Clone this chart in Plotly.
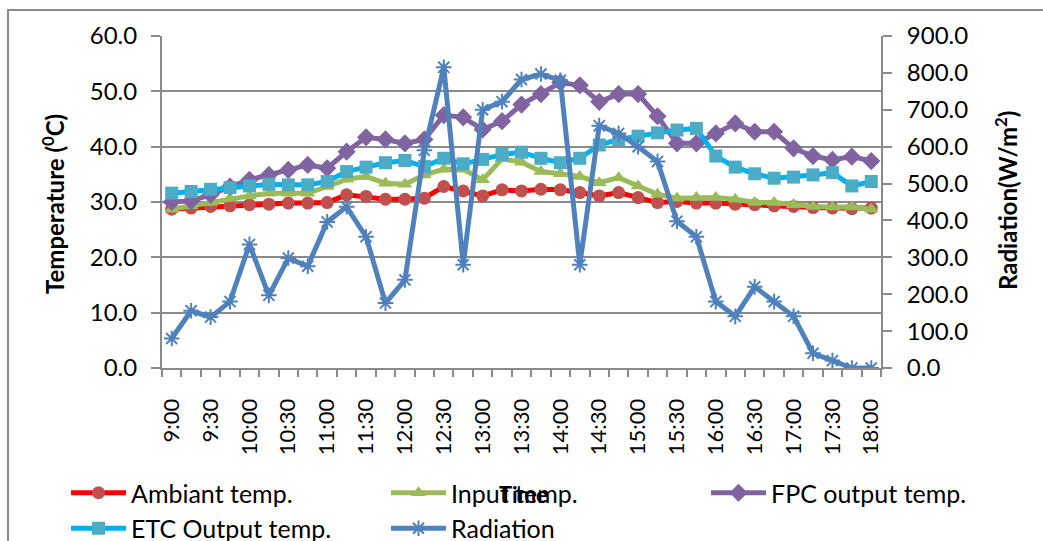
import plotly.graph_objects as go

# Sampling times (15-minute steps) and the labelled half-hours
times = ["9:00", "9:15", "9:30", "9:45", "10:00", "10:15", "10:30", "10:45",
         "11:00", "11:15", "11:30", "11:45", "12:00", "12:15", "12:30", "12:45",
         "13:00", "13:15", "13:30", "13:45", "14:00", "14:15", "14:30", "14:45",
         "15:00", "15:15", "15:30", "15:45", "16:00", "16:15", "16:30", "16:45",
         "17:00", "17:15", "17:30", "17:45", "18:00"]
tick_labels = ["9:00", "9:30", "10:00", "10:30", "11:00", "11:30", "12:00",
               "12:30", "13:00", "13:30", "14:00", "14:30", "15:00", "15:30",
               "16:00", "16:30", "17:00", "17:30", "18:00"]

ambiant_temp = [28.7, 28.9, 29.2, 29.3, 29.5, 29.6, 29.8, 29.8, 29.9, 31.3,
                31.0, 30.5, 30.5, 30.7, 32.8, 32.0, 31.1, 32.2, 32.0, 32.3,
                32.2, 31.7, 31.1, 31.7, 30.8, 29.9, 30.1, 29.8, 29.8, 29.6,
                29.5, 29.3, 29.2, 29.0, 28.9, 28.8, 28.9]
input_temp = [28.7, 29.3, 29.9, 30.7, 31.1, 31.6, 31.6, 31.6, 32.8, 34.1,
              34.6, 33.4, 33.2, 34.9, 35.9, 35.9, 34.0, 37.8, 37.2, 35.5,
              35.1, 34.6, 33.5, 34.4, 32.9, 31.4, 30.7, 30.8, 30.8, 30.5,
              29.9, 29.9, 29.5, 29.2, 29.1, 29.1, 28.7]
fpc_output = [30.0, 30.2, 31.3, 32.8, 34.0, 34.9, 35.8, 36.7, 36.1, 39.1,
              41.7, 41.3, 40.6, 41.3, 45.7, 45.3, 43.1, 44.6, 47.6, 49.5,
              51.6, 51.1, 48.1, 49.5, 49.5, 45.5, 40.6, 40.6, 42.4, 44.2,
              42.7, 42.7, 39.7, 38.3, 37.6, 38.2, 37.4]
etc_output = [31.6, 31.9, 32.3, 32.6, 32.9, 33.2, 33.1, 33.1, 33.7, 35.5,
              36.3, 37.1, 37.5, 36.4, 37.9, 36.9, 37.7, 38.6, 39.0, 37.9,
              37.1, 37.9, 40.3, 41.3, 41.9, 42.5, 43.0, 43.3, 38.3, 36.3,
              35.1, 34.3, 34.5, 34.9, 35.3, 32.9, 33.7]
radiation = [80, 155, 138, 180, 335, 197, 298, 276, 396, 437,
             356, 176, 239, 590, 815, 280, 700, 722, 782, 797,
             780, 280, 657, 636, 600, 560, 398, 356, 180, 140,
             220, 180, 140, 40, 20, 0, 0]

FONT = "Lato"
GRAY = "#8a8a8a"
PLOT_L, PLOT_T, PLOT_W, PLOT_H = 162, 36, 719, 332


def px_x(p):
    return (p - PLOT_L) / PLOT_W


def px_y(p):
    return (PLOT_T + PLOT_H - p) / PLOT_H


x = list(range(len(times)))
tick_pos = [times.index(t) for t in tick_labels]
boundaries = [i - 0.5 for i in range(len(times) + 1)]

fig = go.Figure()


def add_series(name, values, line_color, marker_color, symbol, size, legend,
               axis="y", mline=None):
    marker = dict(symbol=symbol, size=size, color=marker_color)
    if mline:
        marker["line"] = mline
    fig.add_trace(go.Scatter(
        x=x, y=values, name=name, yaxis=axis, mode="lines+markers",
        line=dict(color=line_color, width=5), legend=legend,
        marker=marker, customdata=times,
        hovertemplate="%{customdata}: %{y}<extra>" + name + "</extra>"))


add_series("Ambiant temp.", ambiant_temp, "#FF0000", "#C0504D", "circle", 13,
           "legend")
add_series("Input temp.", input_temp, "#9BBB59", "#9BBB59", "triangle-up", 13,
           "legend2")
add_series("FPC output temp.", fpc_output, "#8064A2", "#8064A2", "diamond", 14,
           "legend3")
add_series("ETC Output temp.", etc_output, "#00B0F0", "#4BACC6", "square", 13,
           "legend")
add_series("Radiation", radiation, "#4F81BD", "#4F81BD", "asterisk-open", 13,
           "legend2", axis="y2", mline=dict(color="#4F81BD", width=2))


def legend_box(left_px):
    return dict(orientation="v", x=px_x(left_px), y=px_y(470),
                xanchor="left", yanchor="top", itemwidth=55,
                font=dict(size=25, family=FONT), bgcolor="rgba(0,0,0,0)",
                traceorder="normal", tracegroupgap=0)


fig.update_layout(
    width=1043, height=541,
    margin=dict(l=PLOT_L, r=1043 - PLOT_L - PLOT_W, t=PLOT_T,
                b=541 - PLOT_T - PLOT_H, autoexpand=False),
    paper_bgcolor="white", plot_bgcolor="white",
    font=dict(family=FONT, color="black"),
    showlegend=True,
    legend=legend_box(66),
    legend2=legend_box(386),
    legend3=legend_box(706),
    xaxis=dict(range=[-0.5, len(times) - 0.5], tickvals=tick_pos,
               ticktext=tick_labels, tickangle=-90, ticks="",
               tickfont=dict(size=22, family=FONT), showgrid=False,
               zeroline=False, showline=True, linecolor=GRAY, linewidth=2,
               minor=dict(tickvals=boundaries, ticks="outside", ticklen=7,
                          tickcolor=GRAY, tickwidth=1.5, showgrid=False),
               ticklabelstandoff=20),
    yaxis=dict(range=[0, 60], dtick=10, tickformat=".1f",
               tickfont=dict(size=24, family=FONT), ticks="outside",
               ticklen=9, tickcolor=GRAY, tickwidth=1.5, showline=True,
               linecolor=GRAY, linewidth=2, showgrid=True, gridcolor=GRAY,
               gridwidth=1.5, zeroline=False, ticklabelstandoff=9),
    yaxis2=dict(range=[0, 900], dtick=100, tickformat=".1f",
                overlaying="y", side="right",
                tickfont=dict(size=24, family=FONT), ticks="outside",
                ticklen=9, tickcolor=GRAY, tickwidth=1.5, showline=True,
                linecolor=GRAY, linewidth=2, showgrid=False, zeroline=False,
                ticklabelstandoff=10),
    shapes=[dict(type="rect", xref="paper", yref="paper",
                 x0=px_x(8), x1=px_x(1060), y0=px_y(560), y1=px_y(10),
                 line=dict(color=GRAY, width=2), layer="below")],
    annotations=[
        dict(text="<b>Temperature (<sup>0</sup>C)</b>", textangle=-90,
             xref="paper", yref="paper", x=px_x(53), y=px_y(204),
             showarrow=False, font=dict(size=24, family=FONT),
             xanchor="center", yanchor="middle"),
        dict(text="<b>Radiation(W/m<sup>2</sup>)</b>", textangle=-90,
             xref="paper", yref="paper", x=px_x(1006), y=px_y(201),
             showarrow=False, font=dict(size=24, family=FONT),
             xanchor="center", yanchor="middle"),
        dict(text="<b>Time</b>", xref="paper", yref="paper",
             x=px_x(523), y=px_y(494), showarrow=False,
             font=dict(size=22, family=FONT), xanchor="center",
             yanchor="middle"),
    ],
)

fig.write_html("out.html")
